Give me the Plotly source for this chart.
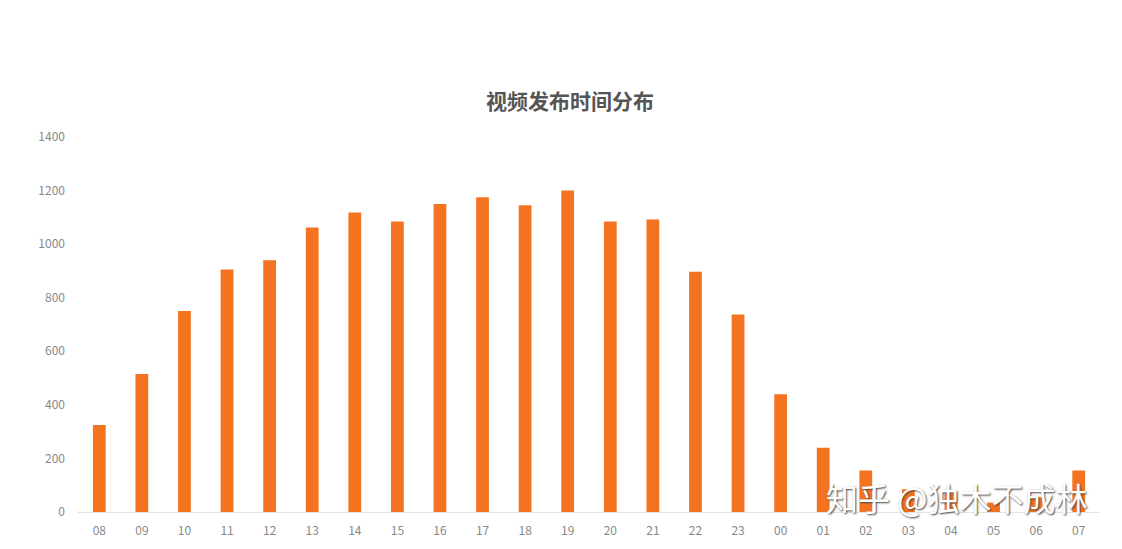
import plotly.graph_objects as go

hours = ["08", "09", "10", "11", "12", "13", "14", "15", "16", "17", "18", "19",
         "20", "21", "22", "23", "00", "01", "02", "03", "04", "05", "06", "07"]
counts = [325, 515, 750, 905, 940, 1062, 1118, 1085, 1150, 1175, 1145, 1200,
          1085, 1092, 897, 737, 440, 240, 155, 85, 70, 35, 55, 155]
y_ticks = [0, 200, 400, 600, 800, 1000, 1200, 1400]

title_text = "视频发布时间分布"
watermark = "知乎 @独木不成林"

fig = go.Figure(go.Bar(
    x=hours, y=counts,
    marker=dict(color="#F47321", line=dict(width=0)),
    width=0.3,
))

fig.update_layout(
    width=1122, height=549,
    margin=dict(l=70, r=30, t=129, b=45),
    paper_bgcolor="white", plot_bgcolor="white",
    showlegend=False,
    font=dict(family="Noto Sans CJK SC, Noto Sans, sans-serif", color="#888888", size=12),
    title=dict(text=f"<b>{title_text}</b>", x=562 / 1122, xanchor="center",
               y=1 - 94 / 549, yanchor="middle",
               font=dict(size=21, color="#555555")),
    xaxis=dict(type="category", showgrid=False, zeroline=False,
               showline=True, linecolor="#e3e3e3", linewidth=1,
               ticks="", tickfont=dict(size=12, color="#888888"),
               ticklabelstandoff=8),
    yaxis=dict(range=[0, 1400], tickvals=y_ticks, showgrid=False,
               zeroline=False, showline=False, ticks="",
               tickfont=dict(size=12, color="#888888"),
               ticklabelstandoff=12),
    annotations=[dict(
        text=watermark, xref="paper", yref="paper",
        x=(956 - 78) / 1022, y=(512 - 497) / 375,
        xanchor="center", yanchor="middle", showarrow=False,
        font=dict(size=32, color="white", family="Noto Sans CJK SC",
                  shadow="1px 1px 2px #444"),
    )],
)

fig.write_html("out.html")
